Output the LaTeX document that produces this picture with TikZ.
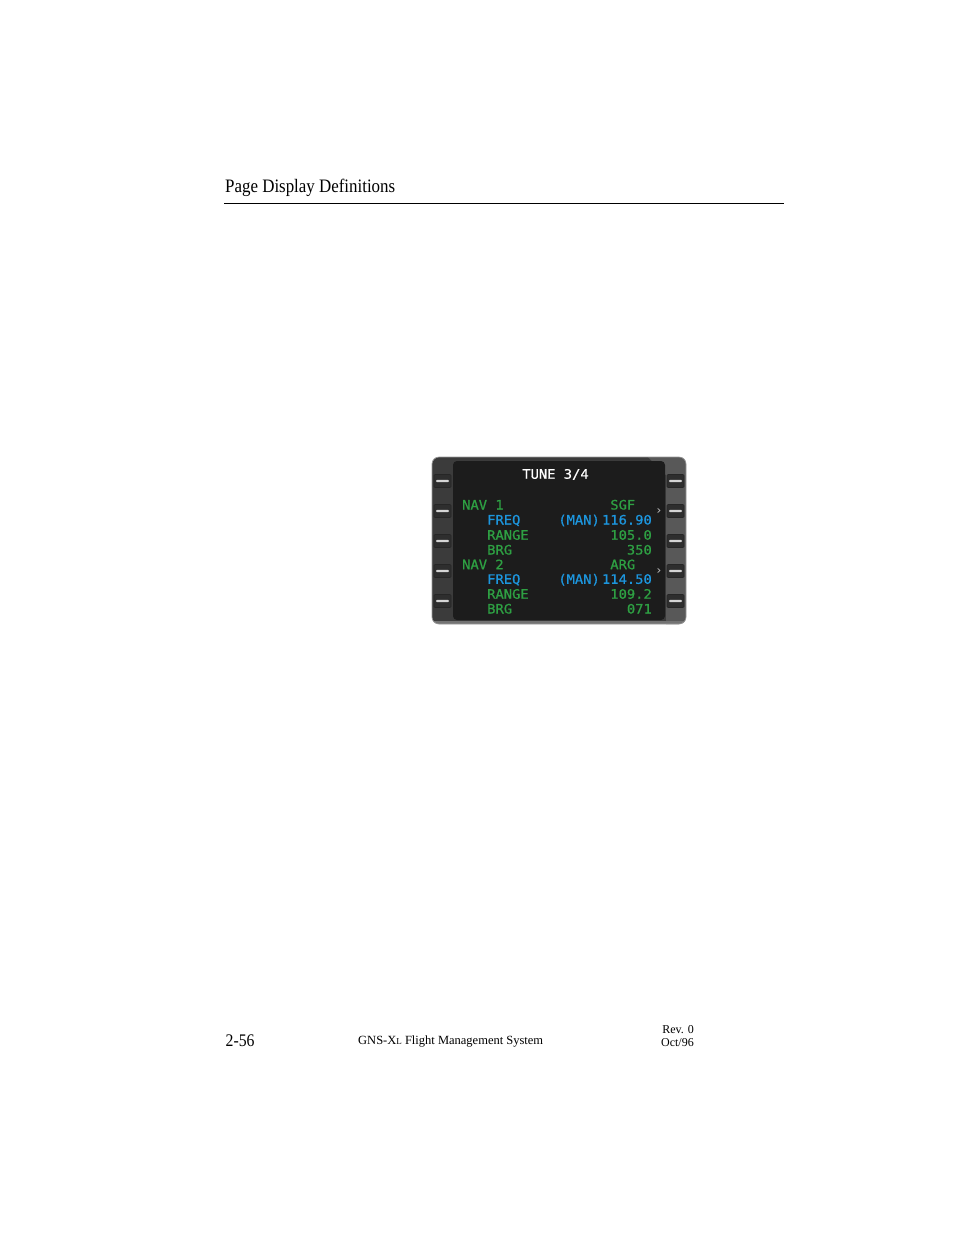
\documentclass[tikz,border=0pt]{standalone}
\usepackage{fontspec}
\setmainfont{Liberation Serif}
\newfontfamily\cdufont[FakeStretch=1.06,FakeBold=0.7]{DejaVu Sans Mono}
\newfontfamily\symfont{DejaVu Sans}
\usepackage{xcolor}
\definecolor{bezel}{HTML}{3B3B3B}
\definecolor{bezellight}{HTML}{585858}
\definecolor{screen}{HTML}{1C1C1C}
\definecolor{cdugreen}{RGB}{46,160,67}
\definecolor{cdublue}{RGB}{28,150,222}
\definecolor{keyface}{HTML}{2E2E2E}
\definecolor{keybar}{HTML}{D4D4D4}
\tikzstyle{line key}=[
    draw = black!85,
    fill = keyface,
    line width = 0.6pt,
    rounded corners = 1pt,
    minimum width = 17pt,
    minimum height = 13pt,
    inner sep = 0pt,
    path picture = {\fill[keybar] ([xshift=-6.5pt,yshift=-1.1pt]path picture bounding box.center) rectangle ([xshift=6.5pt,yshift=1.1pt]path picture bounding box.center);}
]
\begin{document}
\begin{tikzpicture}[x=1pt, y=-1pt, inner sep=0pt,
    green text/.style = {text=cdugreen, font={\cdufont\fontsize{13}{13}\selectfont}},
    blue text/.style = {text=cdublue, font={\cdufont\fontsize{13}{13}\selectfont}},
    page text/.style = {font={\fontsize{12.5}{12.5}\selectfont}}]
        \useasboundingbox (0,0) rectangle (954,1235);

        \node[anchor=base west, font={\fontsize{19}{19}\selectfont}] (hdr) at (225,192.7) {\scalebox{0.89}[1]{Page Display Definitions}};
        \coordinate (rule l) at (224,203.5);
        \coordinate (rule r) at (784,203.5);
        \draw[line width=0.8pt] (rule l) -- (rule r);

        \begin{scope}
            \clip[rounded corners=7pt] (432,457) rectangle (686,624);
            \fill[bezel] (432,457) rectangle (686,624);
            \fill[bezellight] (648,457) -- (690,457) -- (690,628) -- (666,628) -- (666,475) -- cycle;
            \fill[black!55] (432,621) rectangle (686,628);
        \end{scope}
        \draw[black!40, line width=0.7pt, rounded corners=7pt] (432,457) rectangle (686,624);
        \fill[screen, rounded corners=4pt] (453,461) rectangle (665,620);

        \node[line key] (l1) at (442.5,481) {};
        \node[line key] (l2) at (442.5,511) {};
        \node[line key] (l3) at (442.5,541) {};
        \node[line key] (l4) at (442.5,571) {};
        \node[line key] (l5) at (442.5,601) {};
        \node[line key] (r1) at (675.5,481) {};
        \node[line key] (r2) at (675.5,511) {};
        \node[line key] (r3) at (675.5,541) {};
        \node[line key] (r4) at (675.5,571) {};
        \node[line key] (r5) at (675.5,601) {};

        \node[anchor=base, text=white, font={\cdufont\fontsize{13}{13}\selectfont}] (tune) at (555.5,478.7) {TUNE 3/4};

        \node[green text, anchor=base west] (nav1) at (462,509.5) {NAV 1};
        \node[green text, anchor=base east] (id1) at (635.4,509.5) {SGF};
        \node[blue text, anchor=base west] (freq1) at (487,524.5) {FREQ};
        \node[blue text, anchor=base east] (man1) at (600,524.5) {(MAN)};
        \node[blue text, anchor=base east] (mhz1) at (652,524.5) {116.90};
        \node[green text, anchor=base west] (rng1) at (487,539.7) {RANGE};
        \node[green text, anchor=base east] (dist1) at (652,539.7) {105.0};
        \node[green text, anchor=base west] (brg1) at (487,554.5) {BRG};
        \node[green text, anchor=base east] (deg1) at (652,554.5) {350};

        \node[green text, anchor=base west] (nav2) at (462,569.2) {NAV 2};
        \node[green text, anchor=base east] (id2) at (635.4,569.2) {ARG};
        \node[blue text, anchor=base west] (freq2) at (487,583.8) {FREQ};
        \node[blue text, anchor=base east] (man2) at (600,583.8) {(MAN)};
        \node[blue text, anchor=base east] (mhz2) at (652,583.8) {114.50};
        \node[green text, anchor=base west] (rng2) at (487,598.7) {RANGE};
        \node[green text, anchor=base east] (dist2) at (652,598.7) {109.2};
        \node[green text, anchor=base west] (brg2) at (487,613.5) {BRG};
        \node[green text, anchor=base east] (deg2) at (652,613.5) {071};

        \node[text=black!25, font={\symfont\fontsize{12}{12}\selectfont}] (sel1) at (659,511) {›};
        \node[text=black!25, font={\symfont\fontsize{12}{12}\selectfont}] (sel2) at (659,571) {›};

        \node[anchor=base west, font={\fontsize{17.7}{17.7}\selectfont}] (pg) at (225.5,1046.7) {\scalebox{0.89}[1]{2-56}};
        \node[page text, anchor=base west] (title) at (358,1044.7) {GNS-X{\fontsize{9}{9}\selectfont L} Flight Management System};
        \node[page text, anchor=base east, font={\fontsize{12}{12}\selectfont}] (rev) at (694,1033) {Rev. 0};
        \node[page text, anchor=base east, font={\fontsize{12}{12}\selectfont}] (date) at (694,1046) {Oct/96};

    \end{tikzpicture}
\end{document}
